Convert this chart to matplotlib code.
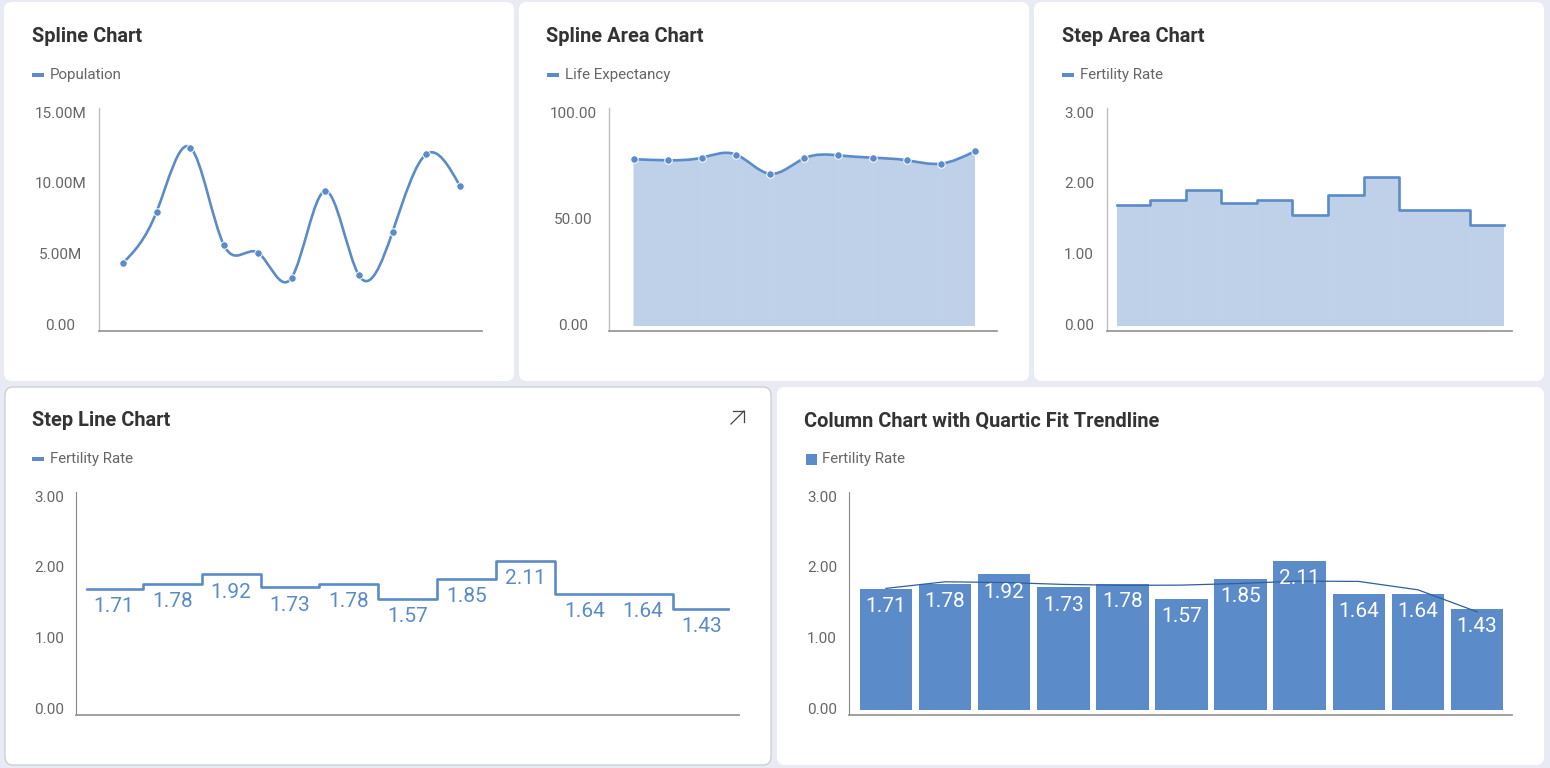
import matplotlib
matplotlib.use("Agg")
import matplotlib.pyplot as plt
from matplotlib.patches import FancyBboxPatch, PathPatch, Rectangle
from matplotlib.path import Path
from matplotlib.transforms import ScaledTranslation
import numpy as np

plt.rcParams["font.family"] = ["Roboto", "DejaVu Sans"]

W, H = 1550, 768
BG = "#e9ebf4"
BLUE = "#5b8bc9"
AREA = "#bed1e9"
TREND = "#2f5f9f"
GREY = "#666666"
DARK = "#333333"

# chart values
population = [4.45, 8.08, 12.6, 5.69, 5.18, 3.4, 9.53, 3.58, 6.65, 12.13, 9.88]
life_expectancy = [78.5, 78.0, 79.2, 80.7, 71.6, 78.9, 80.3, 79.2, 78.0, 76.4, 82.3]
fertility = [1.71, 1.78, 1.92, 1.73, 1.78, 1.57, 1.85, 2.11, 1.64, 1.64, 1.43]
trend = [1.717, 1.81, 1.80, 1.773, 1.76, 1.763, 1.787, 1.82, 1.815, 1.697, 1.387]

pop_ticks = [0, 5, 10, 15]
pop_labels = ["0.00", "5.00M", "10.00M", "15.00M"]
life_ticks = [0, 50, 100]
life_labels = ["0.00", "50.00", "100.00"]
fert_ticks = [0, 1, 2, 3]
fert_labels = ["0.00", "1.00", "2.00", "3.00"]

fig = plt.figure(figsize=(W / 100, H / 100), dpi=100, facecolor=BG)

# overlay in pixel coords for the cards, titles and legends
bg = fig.add_axes([0, 0, 1, 1])
bg.set_xlim(0, W)
bg.set_ylim(H, 0)
bg.axis("off")


def card(x0, y0, x1, y1, edge="none"):
    bg.add_patch(FancyBboxPatch((x0 + 8, y0 + 8), x1 - x0 - 16, y1 - y0 - 16,
                                boxstyle="round,pad=8,rounding_size=8",
                                fc="white", ec=edge, lw=0.8))


def header(x, y, title, legend, square=False):
    bg.text(x + 0.5, y + 35, title, fontsize=14.4, fontweight="bold", color=DARK, va="center")
    if square:
        bg.add_patch(Rectangle((x + 2, y + 68), 10.5, 10.5, fc=BLUE, ec="none"))
        bg.text(x + 18, y + 73, legend, fontsize=10.9, color=GREY, va="center")
    else:
        bg.add_patch(Rectangle((x + 1, y + 71), 11.5, 4, fc=BLUE, ec="none"))
        bg.text(x + 19, y + 73, legend, fontsize=10.9, color=GREY, va="center")


def make_axes(left, right, top, first, last, ticks, labels, label_center, n=11, axis_dark=False):
    # the zero line sits 5 px above the axis and the top tick 6 px below its end
    bottom = top + 223
    ax = fig.add_axes([left / W, 1 - bottom / H, (right - left) / W, 223 / H])
    ax.patch.set_alpha(0)
    unit = ticks[-1] / 212.5
    ax.set_ylim(-5 * unit, 218 * unit)
    step = (last - first) / (n - 1)
    ax.set_xlim(-(first - left) / step, n - 1 + (right - last) / step)
    for s in ["top", "right"]:
        ax.spines[s].set_visible(False)
    ax.spines["left"].set_color("#888888" if axis_dark else "#bdbdbd")
    ax.spines["left"].set_linewidth(0.8 if axis_dark else 1.0)
    ax.spines["bottom"].set_color("#999999")
    ax.spines["bottom"].set_linewidth(1.3)
    ax.set_xticks([])
    ax.set_yticks(ticks, labels)
    ax.tick_params(axis="y", length=0, pad=(left - label_center) * 0.72, labelsize=11, labelcolor=GREY)
    up = ScaledTranslation(0, 1.5 / 100, fig.dpi_scale_trans)
    for lab in ax.get_yticklabels():
        lab.set_ha("center")
        lab.set_transform(lab.get_transform() + up)
    return ax


def spline(ax, x, y):
    # natural cubic spline, written out as bezier segments
    x = np.asarray(x, float)
    y = np.asarray(y, float)
    n = len(x)
    h = np.diff(x)
    A = np.zeros((n, n))
    b = np.zeros(n)
    A[0, 0] = A[-1, -1] = 1
    for i in range(1, n - 1):
        A[i, i - 1] = h[i - 1]
        A[i, i] = 2 * (h[i - 1] + h[i])
        A[i, i + 1] = h[i]
        b[i] = 6 * ((y[i + 1] - y[i]) / h[i] - (y[i] - y[i - 1]) / h[i - 1])
    m = np.linalg.solve(A, b)
    verts = [(x[0], y[0])]
    codes = [Path.MOVETO]
    for i in range(n - 1):
        d0 = (y[i + 1] - y[i]) / h[i] - h[i] * (2 * m[i] + m[i + 1]) / 6
        d1 = (y[i + 1] - y[i]) / h[i] + h[i] * (m[i] + 2 * m[i + 1]) / 6
        verts += [(x[i] + h[i] / 3, y[i] + d0 * h[i] / 3),
                  (x[i + 1] - h[i] / 3, y[i + 1] - d1 * h[i] / 3),
                  (x[i + 1], y[i + 1])]
        codes += [Path.CURVE4] * 3
    ax.add_patch(PathPatch(Path(verts, codes), fc="none", ec=BLUE, lw=1.9, capstyle="round"))
    return verts, codes


def markers(ax, x, y):
    ax.plot(x, y, ls="none", marker="o", ms=5.4, mfc=BLUE, mec="white", mew=0.7, clip_on=False, zorder=5)


def step_xy(values):
    edges = np.arange(len(values) + 1) - 0.5
    edges[0] += 0.05
    edges[-1] -= 0.05
    return edges, np.array(list(values) + [values[-1]])


card(4, 2, 514, 381)
card(519, 2, 1029, 381)
card(1034, 2, 1544, 381)
card(5, 387, 771, 765, edge="#c4c6cc")
card(777, 387, 1544, 765)

xs = np.arange(11)

# spline chart
header(31, 2, "Spline Chart", "Population")
ax1 = make_axes(99, 482, 108, 123, 460, pop_ticks, pop_labels, 60.5)
spline(ax1, xs, population)
markers(ax1, xs, population)

# spline area chart
header(546, 2, "Spline Area Chart", "Life Expectancy")
ax2 = make_axes(609, 997, 108, 633.5, 975, life_ticks, life_labels, 573.5)
verts, codes = spline(ax2, xs, life_expectancy)
area_verts = verts + [(10, 0), (0, 0), verts[0]]
area_codes = codes + [Path.LINETO, Path.LINETO, Path.CLOSEPOLY]
ax2.add_patch(PathPatch(Path(area_verts, area_codes), fc=AREA, ec="none", zorder=0))
ax2.vlines(xs[1:-1], 0, life_expectancy[1:-1], color="white", lw=1, alpha=0.06, zorder=1)
markers(ax2, xs, life_expectancy)

# step area chart
header(1061, 2, "Step Area Chart", "Fertility Rate")
ax3 = make_axes(1107, 1512, 108, 1132.5, 1488, fert_ticks, fert_labels, 1079)
ex, ey = step_xy(fertility)
ax3.fill_between(ex, ey, 0, step="post", color=AREA, lw=0, zorder=0)
ax3.vlines(ex[1:-1], 0, fertility[1:], color="white", lw=1, alpha=0.06, zorder=1)
ax3.step(ex, ey, where="post", color=BLUE, lw=1.9)

# step line chart
header(31, 386, "Step Line Chart", "Fertility Rate")
ax4 = make_axes(76, 739, 492, 113.5, 702, fert_ticks, fert_labels, 49.5, axis_dark=True)
ex, ey = step_xy(fertility)
ax4.step(ex, ey, where="post", color=BLUE, lw=1.9)
for i, v in enumerate(fertility):
    ax4.annotate(f"{v:.2f}", (i, v), xytext=(0, -18 * 0.72), textcoords="offset points",
                 ha="center", va="center", fontsize=15, color=BLUE)

# arrow icon
bg.plot([731, 744], [424, 411], color="#444444", lw=0.9)
bg.plot([733, 744, 744], [411, 411, 422], color="#444444", lw=0.9)

# column chart
header(804, 386, "Column Chart with Quartic Fit Trendline", "Fertility Rate", square=True)
ax5 = make_axes(849, 1512, 492, 886, 1477, fert_ticks, fert_labels, 822, axis_dark=True)
ax5.bar(xs, fertility, width=0.89, color=BLUE, lw=0)
ax5.plot(xs, trend, color=TREND, lw=0.9, zorder=4)
for i, v in enumerate(fertility):
    ax5.annotate(f"{v:.2f}", (i, v), xytext=(0, -18 * 0.72), textcoords="offset points",
                 ha="center", va="center", fontsize=15, color="white", zorder=5)

fig.savefig("out.png", dpi=100, facecolor=BG)
